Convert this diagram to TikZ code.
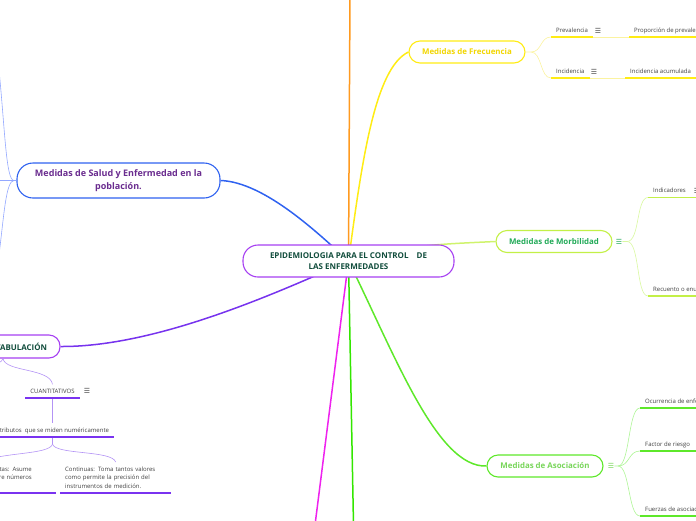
\documentclass[tikz,border=0pt]{standalone}
\usepackage{fontspec}
\setmainfont{Open Sans}
\newfontfamily\iconfont{DejaVu Sans}
\usepackage{xcolor}
\usetikzlibrary{backgrounds}

\definecolor{cvio}{HTML}{A640F2}
\definecolor{cdark}{HTML}{114D3C}
\definecolor{cblue}{HTML}{2F62F0}
\definecolor{cbluelt}{HTML}{93A8FF}
\definecolor{cpurp}{HTML}{6A2C8F}
\definecolor{corange}{HTML}{FF9A1F}
\definecolor{cyel}{HTML}{FFEC14}
\definecolor{cyeltx}{HTML}{F2D600}
\definecolor{cyellt}{HTML}{FBF3A0}
\definecolor{cmorb}{HTML}{C3F047}
\definecolor{cmorbtx}{HTML}{22AA58}
\definecolor{cmorblt}{HTML}{D9F8A0}
\definecolor{casoc}{HTML}{5EE82A}
\definecolor{casoctx}{HTML}{78D65A}
\definecolor{casoclt}{HTML}{AEF596}
\definecolor{cgreen}{HTML}{33E600}
\definecolor{cmag}{HTML}{EE22EE}
\definecolor{cindigo}{HTML}{7733EE}
\definecolor{cvioul}{HTML}{7A33F0}
\definecolor{cviolt}{HTML}{B393F5}

\begin{document}
\begin{tikzpicture}[x=1pt,y=-1pt,
  topic/.style={draw, line width=1.1pt, fill=white, rounded corners=11pt,
    align=center, inner sep=0pt, font=\bfseries\fontsize{7.9}{10}\selectfont},
  leaf/.style={anchor=south west, inner xsep=5pt, inner ysep=4.5pt,
    text depth=0pt, text=black!75, font=\fontsize{6}{8.5}\selectfont},
  icon/.style={inner sep=0pt, font=\iconfont\fontsize{7}{7}\selectfont},
  ul/.style={line width=1.4pt},
  twig/.style={line width=0.6pt},
  branch/.style={line width=1.5pt}]
\useasboundingbox (0,0) rectangle (696,520);

% main topics
\node[topic, draw=cvio, text=cdark, minimum width=211pt, minimum height=32pt,
  rounded corners=15pt, font=\bfseries\fontsize{8}{11}\selectfont]
  (epi) at (348.5,261) {EPIDEMIOLOGIA PARA EL CONTROL\hspace{8pt}DE\\LAS ENFERMEDADES};
\node[topic, draw=cblue, text=cpurp, minimum width=203pt, minimum height=35pt,
  rounded corners=16pt, font=\bfseries\fontsize{9}{13}\selectfont]
  (salud) at (118.5,180.5) {Medidas de Salud y Enfermedad en la\\población.};
\node[topic, draw=cyel, text=cyeltx, minimum width=116pt, minimum height=22pt]
  (frec) at (467,52) {Medidas de Frecuencia};
\node[topic, draw=cmorb, text=cmorbtx, minimum width=116pt, minimum height=22pt]
  (morb) at (554,241.5) {Medidas de Morbilidad};
\node[topic, draw=casoc, text=casoctx, minimum width=116pt, minimum height=22pt]
  (asoc) at (545,466) {Medidas de Asociación};
\node[topic, draw=cvio, text=cdark, minimum height=23pt, inner xsep=13pt,
  text width=88pt, align=right] (tab) at (3,346.5) {TABULACIÓN};

% free ends
\coordinate (ortop) at (350,-5);
\coordinate (grbot) at (353.5,525);
\coordinate (mgbot) at (315,525);

\begin{scope}[on background layer]
  \draw[branch, cblue] (epi.center) .. controls (320,235) and (265,182) .. (salud.east);
  \draw[branch, corange] (epi.center) -- (ortop);
  \draw[branch, cyel] (epi.center) .. controls (362,160) and (375,68) .. (frec.west);
  \draw[branch, cmorb!80] (epi.center) .. controls (420,245) .. (morb.west);
  \draw[branch, casoc] (epi.center) .. controls (395,355) and (437,468) .. (asoc.west);
  \draw[branch, cgreen] (epi.center) -- (grbot);
  \draw[branch, cmag] (epi.center) -- (mgbot);
  \draw[branch, cindigo] (epi.center) .. controls (262,300) and (150,347) .. (tab.east);
\end{scope}

% salud: branches running off the left edge
\coordinate (saluj) at (14,180.5);
\coordinate (sal1) at (-1,70);
\coordinate (sal2) at (-6,180.5);
\coordinate (sal3) at (-1,255);
\draw[twig, cbluelt] (salud.west) -- (saluj) .. controls (6,180.5) and (5,130) .. (sal1);
\draw[twig, cbluelt] (saluj) -- (sal2);
\draw[twig, cbluelt] (saluj) .. controls (6,180.5) and (4,215) .. (sal3);

% frecuencia
\node[leaf] (prev) at (551,37) {Prevalencia};
\node[icon, text=black!70] (prevok) at (598,30.5) {☰};
\node[leaf] (propprev) at (629,37) {Proporción de prevalencia};
\node[leaf] (inc) at (551,78) {Incidencia};
\node[icon, text=black!70] (incok) at (594,71.5) {☰};
\node[leaf] (incacum) at (625,78) {Incidencia acumulada};
\coordinate (frecj) at (531,52);
\draw[twig, cyellt] (frec.east) -- (frecj) .. controls (542,52) and (540,37) .. (prev.south west);
\draw[twig, cyellt] (frecj) .. controls (542,52) and (540,78) .. (inc.south west);
\draw[twig, cyellt] (prev.south east) -- (propprev.south west);
\draw[twig, cyellt] (inc.south east) -- (incacum.south west);
\foreach \n in {prev,propprev,inc,incacum}
  \draw[ul, cyel] (\n.south west) -- (\n.south east);

% morbilidad
\node[icon, text=cmorbtx] (morbok) at (619,241.5) {☰};
\node[leaf] (indic) at (648,197.5) {Indicadores};
\node[icon, text=black!70] (indicok) at (697,190.5) {☰};
\node[leaf] (recu) at (648,296) {Recuento o enumeración};
\coordinate (morbj) at (627,241.5);
\draw[twig, cmorblt] (morbok.east) -- (morbj) .. controls (640,241.5) and (636,197.5) .. (indic.south west);
\draw[twig, cmorblt] (morbj) .. controls (640,241.5) and (636,296) .. (recu.south west);
\foreach \n in {indic,recu}
  \draw[ul, cmorb] (\n.south west) -- ([xshift=60pt]\n.south east);

% asociacion
\node[icon, text=casoctx] (asocok) at (611,466) {☰};
\node[leaf] (ocur) at (640,408) {Ocurrencia de enfermedad};
\node[leaf] (riesgo) at (640,451) {Factor de riesgo};
\node[leaf] (fuerza) at (640,516) {Fuerzas de asociación};
\coordinate (asocj) at (618,466);
\draw[twig, casoclt] (asocok.east) -- (asocj) .. controls (630,466) and (628,408) .. (ocur.south west);
\draw[twig, casoclt] (asocj) .. controls (630,466) and (628,451) .. (riesgo.south west);
\draw[twig, casoclt] (asocj) .. controls (630,466) and (628,516) .. (fuerza.south west);
\foreach \n in {ocur,riesgo,fuerza}
  \draw[ul, casoc] (\n.south west) -- ([xshift=60pt]\n.south east);

% tabulacion
\node[leaf, anchor=south] (cuant) at (52.5,398) {CUANTITATIVOS};
\node[icon, text=black!70] (cuantok) at (87,390.5) {☰};
\node[leaf, anchor=south] (atrib) at (52.5,437) {Atributos\ \ que se miden numéricamente};
\node[leaf, anchor=south west, text width=101pt, align=left, text depth=17pt] (cont) at (60,493)
  {Continuas: Toma tantos valores\\como permite la precisión del\\instrumentos de medición.};
\node[leaf, anchor=south east, text width=101pt, align=right, text depth=17pt] (disc) at (37,493)
  {Discretas: Asume\\valores enteros entre números};
\coordinate (tabl) at (-45,372);
\coordinate (atj) at (52.5,444);
\draw[twig, cviolt] (tab.south) .. controls (5,372) and (50,368) .. (cuant.north);
\draw[twig, cviolt] (tab.south) .. controls (1,366) and (-20,368) .. (tabl);
\draw[twig, cviolt] (cuant.south) -- (atrib.north);
\draw[twig, cviolt] (atrib.south) -- (atj) .. controls (55,455) and (112,450) .. (cont.north);
\draw[twig, cviolt] (atj) .. controls (50,455) and (0,452) .. (disc.north);
\foreach \n in {cuant,atrib,cont}
  \draw[ul, cvioul] (\n.south west) -- (\n.south east);
\draw[ul, cvioul] (disc.south west) -- ([xshift=19pt]disc.south east);
\end{tikzpicture}
\end{document}
